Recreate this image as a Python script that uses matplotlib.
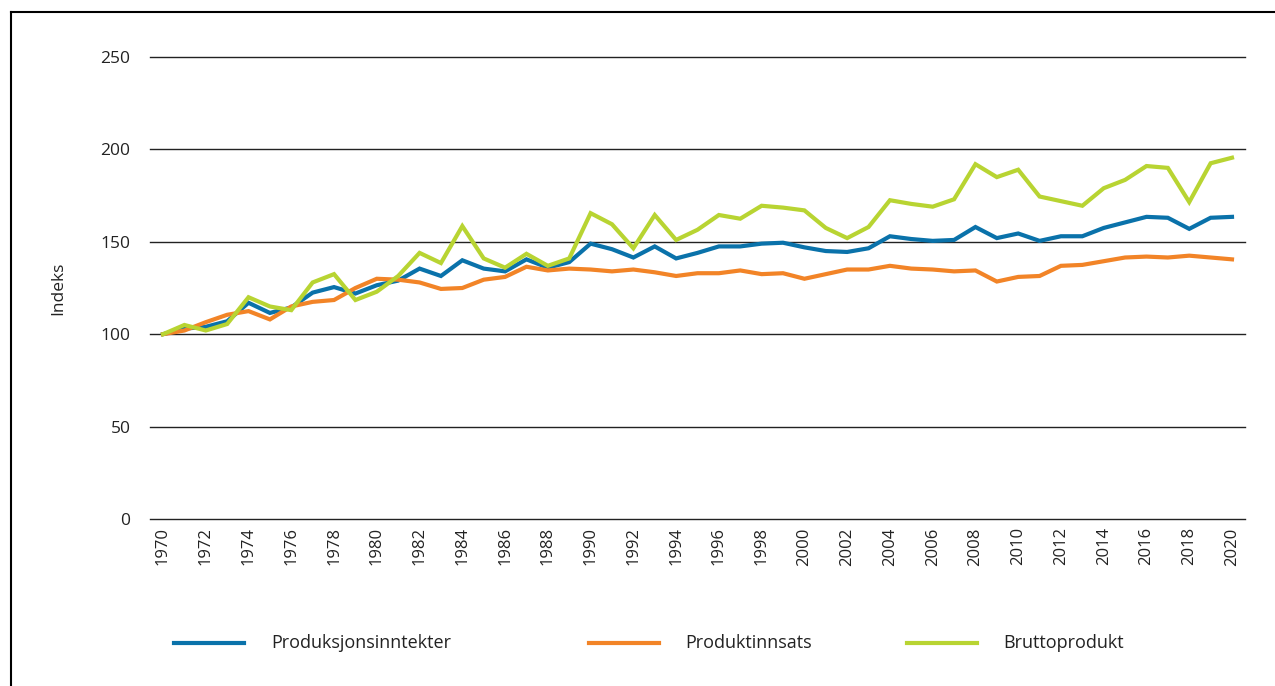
import matplotlib.pyplot as plt
from matplotlib.lines import Line2D

plt.rcParams['font.family'] = ['Open Sans', 'DejaVu Sans']

years = list(range(1970, 2021))

produksjonsinntekter = [100, 103, 104, 107, 117, 111.5, 114.5, 122.5, 125.5, 122,
                        126.5, 129, 135.5, 131.5, 140, 135.5, 134, 140.5, 136, 139,
                        149, 146, 141.5, 147.5, 141, 144, 147.5, 147.5, 149, 149.5,
                        147, 145, 144.5, 146.5, 153, 151.5, 150.5, 151, 158, 152,
                        154.5, 150.5, 153, 153, 157.5, 160.5, 163.5, 163, 157, 163,
                        163.5]

produktinnsats = [100, 102, 106.5, 110.5, 112.5, 108, 115, 117.5, 118.5, 125,
                  130, 129.5, 128, 124.5, 125, 129.5, 131, 136.5, 134.5, 135.5,
                  135, 134, 135, 133.5, 131.5, 133, 133, 134.5, 132.5, 133,
                  130, 132.5, 135, 135, 137, 135.5, 135, 134, 134.5, 128.5,
                  131, 131.5, 137, 137.5, 139.5, 141.5, 142, 141.5, 142.5, 141.5,
                  140.5]

bruttoprodukt = [100, 105, 102, 105.5, 120, 115, 113, 128, 132.5, 118.5,
                 123, 131.5, 144, 138.5, 158.5, 141, 136, 143.5, 137, 141,
                 165.5, 159.5, 146.5, 164.5, 151, 156.5, 164.5, 162.5, 169.5, 168.5,
                 167, 157.5, 152, 158, 172.5, 170.5, 169, 173, 192, 185,
                 189, 174.5, 172, 169.5, 179, 183.5, 191, 190, 171.5, 192.5,
                 195.5]

series = [("Produksjonsinntekter", produksjonsinntekter, "#0a72aa"),
          ("Produktinnsats", produktinnsats, "#f28427"),
          ("Bruttoprodukt", bruttoprodukt, "#b8d432")]

fig = plt.figure(figsize=(12.75, 6.86), dpi=100)
ax = fig.add_axes([150 / 1275, 1 - 519 / 686, 1095 / 1275, 462 / 686])

for name, vals, col in series:
    ax.plot(years, vals, color=col, lw=3, solid_joinstyle='miter', label=name, zorder=3)

ax.set_xlim(1970 - 13 / 21.38, 2020 + 13 / 21.38)
ax.set_ylim(0, 250)
ax.set_yticks(range(0, 251, 50))
ax.set_xticks(range(1970, 2021, 2))
ax.tick_params(axis='x', labelrotation=90, length=0, labelsize=12, pad=6, colors='#222222')
ax.tick_params(axis='y', length=0, labelsize=12.5, pad=14, colors='#222222')
ax.grid(axis='y', color='#222222', lw=1)
for gl in ax.get_ygridlines():
    gl.set_clip_on(False)
ax.set_axisbelow(True)
for s in ax.spines.values():
    s.set_visible(False)
ax.set_ylabel("Indeks", fontsize=12.5, color='#222222')
ax.yaxis.set_label_coords(-84 / 1095, 0.5)

# frame around figure
fig.add_artist(Line2D([11 / 1275, 11 / 1275], [0, 1 - 12 / 686], color='black', lw=1.5))
fig.add_artist(Line2D([11 / 1275, 1], [1 - 12 / 686, 1 - 12 / 686], color='black', lw=1.5))

# legend
ly = 1 - 643 / 686
for (name, vals, col), x0, tx in zip(series, [174, 589, 907], [271, 685, 1003]):
    fig.add_artist(Line2D([x0 / 1275, (x0 + 70) / 1275], [ly, ly], color=col, lw=3))
    fig.text(tx / 1275, ly, name, fontsize=13, va='center', ha='left', color='#222222')

fig.savefig("out.png", dpi=100)
